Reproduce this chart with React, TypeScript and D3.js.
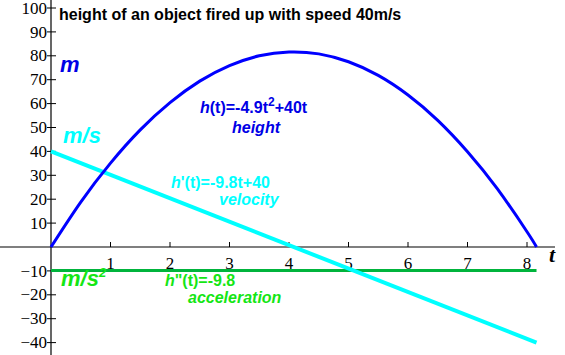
import { useEffect, useRef } from "react";
import * as d3 from "d3";

const WIDTH = 565;
const HEIGHT = 355;

// values
const timeValues = [0, 0.5, 1, 1.5, 2, 2.5, 3, 3.5, 4, 4.5, 5, 5.5, 6, 6.5, 7, 7.5, 8, 8.16];
const heightValues = [0, 18.8, 35.1, 49.0, 60.4, 69.4, 75.9, 80.0, 81.6, 80.8, 77.5, 71.8, 63.6, 53.0, 39.9, 24.4, 6.4, 0];
const velocityTimes = [0, 8.16];
const velocityValues = [40, -40];
const accelTimes = [0, 8.16];
const accelValues = [-9.8, -9.8];

const xTicks = [1, 2, 3, 4, 5, 6, 7, 8];
const yTicks = [100, 90, 80, 70, 60, 50, 40, 30, 20, 10, -10, -20, -30, -40];

const BLUE = "#0000ff";
const CYAN = "#00ffff";
const GREEN_LINE = "#00b43c";
const GREEN_TEXT = "#14e614";

const SANS = "Liberation Sans, Arial, sans-serif";
const SERIF = "Liberation Serif, DejaVu Serif, serif";

export default function App() {
  const axesRef = useRef<SVGGElement>(null);

  // t=0 sits on the y axis, y=0 on the x axis
  const xScale = d3.scaleLinear().domain([0, 8]).range([51, 527]);
  const yScale = d3.scaleLinear().domain([0, 100]).range([247, 8]);

  useEffect(() => {
    const g = d3.select(axesRef.current);
    g.selectAll("*").remove();

    // axis lines
    g.append("line")
      .attr("x1", 0).attr("x2", 555)
      .attr("y1", yScale(0)).attr("y2", yScale(0))
      .attr("stroke", "#000").attr("stroke-width", 1.2);
    g.append("line")
      .attr("x1", xScale(0)).attr("x2", xScale(0))
      .attr("y1", 0).attr("y2", HEIGHT)
      .attr("stroke", "#000").attr("stroke-width", 1.2);

    // x ticks (above the axis) and labels
    const xt = g.selectAll(".xt").data(xTicks).enter().append("g")
      .attr("transform", (d) => `translate(${xScale(d)},${yScale(0)})`);
    xt.append("line").attr("y1", -5).attr("y2", 0).attr("stroke", "#000");
    xt.append("text")
      .attr("y", 22)
      .attr("text-anchor", "middle")
      .attr("font-family", SERIF)
      .attr("font-size", 17)
      .text((d) => d);

    // y ticks crossing the axis
    const yt = g.selectAll(".yt").data(yTicks).enter().append("g")
      .attr("transform", (d) => `translate(${xScale(0)},${yScale(d)})`);
    yt.append("line").attr("x1", -4).attr("x2", 5).attr("stroke", "#000");
    yt.append("text")
      .attr("x", -4)
      .attr("dy", "0.33em")
      .attr("text-anchor", "end")
      .attr("font-family", SERIF)
      .attr("font-size", 17)
      .text((d) => (d < 0 ? "\u2212" + Math.abs(d) : d));
  }, []);

  const curve = d3
    .line<number>()
    .x((_, i) => xScale(timeValues[i]))
    .y((d) => yScale(d))
    .curve(d3.curveNatural);

  const straight = (ts: number[]) =>
    d3
      .line<number>()
      .x((_, i) => xScale(ts[i]))
      .y((d) => yScale(d));

  return (
    <svg
      width={WIDTH}
      height={HEIGHT}
      style={{ position: "absolute", left: 0, top: 0, background: "#fff" }}
    >
      <g ref={axesRef} />

      <path d={straight(accelTimes)(accelValues) || ""} fill="none" stroke={GREEN_LINE} strokeWidth={3} />
      <path d={straight(velocityTimes)(velocityValues) || ""} fill="none" stroke={CYAN} strokeWidth={4} />
      <path d={curve(heightValues) || ""} fill="none" stroke={BLUE} strokeWidth={3} />

      <text x={59} y={20} fontFamily={SANS} fontWeight="bold" fontSize={16} fill="#000">
        height of an object fired up with speed 40m/s
      </text>

      {/* unit labels */}
      <text x={60} y={72} fontFamily={SANS} fontWeight="bold" fontStyle="italic" fontSize={22} fill="#0000e6">
        m
      </text>
      <text x={63} y={143} fontFamily={SANS} fontWeight="bold" fontStyle="italic" fontSize={22} fill={CYAN}>
        m/s
      </text>
      <text x={61} y={286} fontFamily={SANS} fontWeight="bold" fontStyle="italic" fontSize={22} fill={GREEN_TEXT}>
        m/s
        <tspan fontSize={13} dy={-9}>2</tspan>
      </text>
      <text x={549} y={262} fontFamily={SERIF} fontWeight="bold" fontStyle="italic" fontSize={22} fill="#000">
        t
      </text>

      {/* function labels */}
      <g fontFamily={SANS} fontWeight="bold" fontSize={16}>
        <text x={200} y={113} fill="#0000e6">
          <tspan fontStyle="italic">h</tspan>(t)=-4.9t
          <tspan fontSize={12} dy={-7}>2</tspan>
          <tspan dy={7}>+40t</tspan>
        </text>
        <text x={232} y={133} fill="#0000e6" fontStyle="italic">height</text>

        <text x={171} y={188} fill={CYAN}>
          <tspan fontStyle="italic">h</tspan>'(t)=-9.8t+40
        </text>
        <text x={219} y={205} fill={CYAN} fontStyle="italic">velocity</text>

        <text x={165} y={286} fill={GREEN_TEXT}>
          <tspan fontStyle="italic">h</tspan>"(t)=-9.8
        </text>
        <text x={188} y={303} fill={GREEN_TEXT} fontStyle="italic">acceleration</text>
      </g>
    </svg>
  );
}
